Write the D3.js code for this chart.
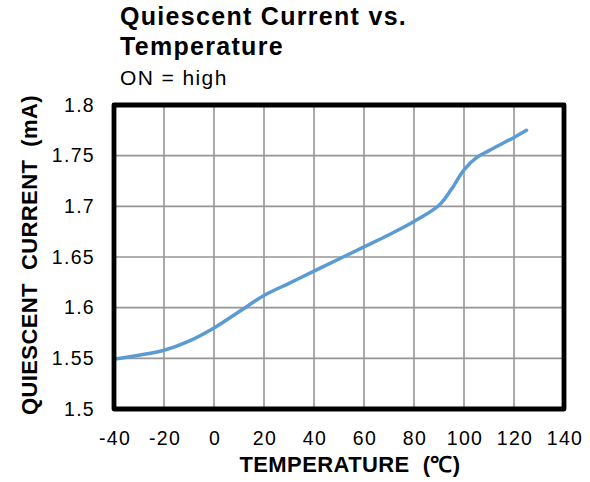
<!DOCTYPE html>
<html>
<head>
<meta charset="utf-8">
<script src="https://cdn.jsdelivr.net/npm/d3@7"></script>
<style>
  body { margin: 0; background: #fff; }
  text { font-family: "Liberation Sans", Arial, sans-serif; }
</style>
</head>
<body>
<script>
// data
const temps = [-40, -30, -20, -10, 0, 10, 20, 30, 40, 50, 60, 70, 80, 90, 95, 100, 105, 110, 120, 125];
const current = [1.549, 1.553, 1.558, 1.567, 1.580, 1.596, 1.612, 1.624, 1.636, 1.648, 1.660, 1.672, 1.685, 1.701, 1.717, 1.736, 1.748, 1.755, 1.768, 1.775];
const xTicks = [-40, -20, 0, 20, 40, 60, 80, 100, 120, 140];
const yTicks = [1.5, 1.55, 1.6, 1.65, 1.7, 1.75, 1.8];

const width = 590, height = 482;
const m = { left: 114, right: 26, top: 105, bottom: 73 };

const svg = d3.select("body").append("svg")
    .attr("width", width)
    .attr("height", height);

const x = d3.scaleLinear().domain([-40, 140]).range([m.left, width - m.right]);
const y = d3.scaleLinear().domain([1.5, 1.8]).range([height - m.bottom, m.top]);

// grid
svg.append("g")
    .selectAll("line")
    .data(xTicks)
    .join("line")
    .attr("x1", d => x(d)).attr("x2", d => x(d))
    .attr("y1", y(1.5)).attr("y2", y(1.8))
    .attr("stroke", "#969696").attr("stroke-width", 1.6);
svg.append("g")
    .selectAll("line")
    .data(yTicks)
    .join("line")
    .attr("x1", x(-40)).attr("x2", x(140))
    .attr("y1", d => y(d)).attr("y2", d => y(d))
    .attr("stroke", "#969696").attr("stroke-width", 1.6);

// tick labels
svg.append("g")
    .selectAll("text")
    .data(yTicks)
    .join("text")
    .attr("x", m.left - 19)
    .attr("y", d => y(d))
    .attr("dy", "0.35em")
    .attr("text-anchor", "end")
    .attr("font-size", 19.5)
    .attr("letter-spacing", 1.3)
    .text(d => String(+d.toFixed(2)));
svg.append("g")
    .selectAll("text")
    .data(xTicks)
    .join("text")
    .attr("x", d => x(d) + 1)
    .attr("y", 445)
    .attr("text-anchor", "middle")
    .attr("font-size", 19.5)
    .attr("letter-spacing", 1.3)
    .text(d => d);

// curve
const line = d3.line()
    .x((d, i) => x(temps[i]))
    .y(d => y(d))
    .curve(d3.curveCatmullRom.alpha(0.5));
svg.append("path")
    .datum(current)
    .attr("d", line)
    .attr("fill", "none")
    .attr("stroke", "#5B9BD5")
    .attr("stroke-width", 3.5)
    .attr("stroke-linecap", "round");

// frame
svg.append("rect")
    .attr("x", x(-40)).attr("y", y(1.8))
    .attr("width", x(140) - x(-40))
    .attr("height", y(1.5) - y(1.8))
    .attr("fill", "none")
    .attr("stroke", "#000")
    .attr("stroke-width", 4.8)
    .attr("stroke-linejoin", "round");

// titles
svg.append("text").attr("x", 120).attr("y", 25)
    .attr("font-size", 25).attr("font-weight", "bold")
    .attr("letter-spacing", 1.3)
    .text("Quiescent Current vs.");
svg.append("text").attr("x", 120).attr("y", 55)
    .attr("font-size", 25).attr("font-weight", "bold")
    .attr("letter-spacing", 1.3)
    .text("Temperature");
svg.append("text").attr("x", 120).attr("y", 85)
    .attr("font-size", 21)
    .attr("letter-spacing", 1.4)
    .text("ON = high");

svg.append("text").attr("x", 350).attr("y", 472)
    .attr("text-anchor", "middle")
    .attr("font-size", 22).attr("font-weight", "bold")
    .attr("letter-spacing", 0.4)
    .attr("xml:space", "preserve")
    .text("TEMPERATURE  (\u2103)");
svg.append("text")
    .attr("transform", "translate(37,255) rotate(-90)")
    .attr("text-anchor", "middle")
    .attr("font-size", 22).attr("font-weight", "bold")
    .attr("letter-spacing", 0.4)
    .attr("xml:space", "preserve")
    .text("QUIESCENT  CURRENT  (mA)");
</script>
</body>
</html>
